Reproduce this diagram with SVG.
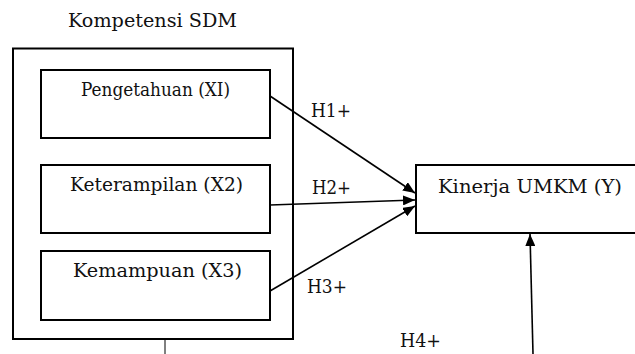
<svg xmlns="http://www.w3.org/2000/svg" width="635" height="354" viewBox="0 0 635 354">
<style>
.box{fill:#fff;stroke:#000;stroke-width:2}
.t{font-family:'DejaVu Serif','Liberation Serif',serif;font-size:18px;fill:#111}
.c{stroke:#000;stroke-width:1.6;fill:none}
</style>
<defs>
<marker id="ah" markerWidth="12" markerHeight="10" refX="12" refY="5" orient="auto" markerUnits="userSpaceOnUse">
<path d="M0,0 L12,5 L0,10 Z" fill="#000"/>
</marker>
</defs>
<rect width="635" height="354" fill="#fff"/>
<text class="t" x="68" y="27" textLength="169" lengthAdjust="spacingAndGlyphs">Kompetensi  SDM</text>
<g id="kompetensi">
<rect class="box" x="13" y="48.5" width="280" height="290.5"/>
<line x1="165" y1="339" x2="165" y2="354" stroke="#000" stroke-width="1"/>
</g>
<g id="x1">
<rect class="box" x="41" y="70" width="229" height="68"/>
<text class="t" x="81" y="96" textLength="149" lengthAdjust="spacingAndGlyphs">Pengetahuan (XI)</text>
</g>
<g id="x2">
<rect class="box" x="41" y="165" width="229" height="68"/>
<text class="t" x="70" y="191" textLength="173" lengthAdjust="spacingAndGlyphs">Keterampilan (X2)</text>
</g>
<g id="x3">
<rect class="box" x="41" y="251" width="229" height="69"/>
<text class="t" x="73" y="277" textLength="169" lengthAdjust="spacingAndGlyphs">Kemampuan (X3)</text>
</g>
<g id="y">
<rect class="box" x="416" y="165" width="240" height="68"/>
<text class="t" x="438" y="193" textLength="184" lengthAdjust="spacingAndGlyphs">Kinerja UMKM (Y)</text>
</g>
<g id="connectors">
<line class="c" x1="270" y1="96" x2="415" y2="193" marker-end="url(#ah)"/>
<line class="c" x1="270" y1="205" x2="415" y2="200" marker-end="url(#ah)"/>
<line class="c" x1="270" y1="291" x2="415" y2="206" marker-end="url(#ah)"/>
<line class="c" x1="533" y1="354" x2="530" y2="234" marker-end="url(#ah)"/>
<text class="t" x="311" y="117" textLength="40" lengthAdjust="spacingAndGlyphs">H1+</text>
<text class="t" x="312" y="194" textLength="39" lengthAdjust="spacingAndGlyphs">H2+</text>
<text class="t" x="307" y="293" textLength="40" lengthAdjust="spacingAndGlyphs">H3+</text>
<text class="t" x="400" y="347" textLength="41" lengthAdjust="spacingAndGlyphs">H4+</text>
</g>
</svg>
